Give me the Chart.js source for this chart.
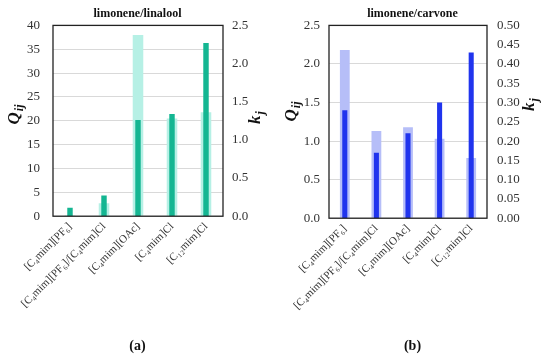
<!DOCTYPE html>
<html>
<head>
<meta charset="utf-8">
<script src="https://cdn.jsdelivr.net/npm/chart.js@4.4.0/dist/chart.umd.min.js"></script>
<style>
  html, body { margin: 0; padding: 0; background: #fff; }
  #wrap { position: relative; width: 550px; height: 363px; }
  .panel { position: absolute; top: 0; width: 275px; height: 363px; }
  #pa { left: 0; }
  #pb { left: 275px; }
</style>
</head>
<body>
<div id="wrap">
  <div class="panel" id="pa"><canvas id="ca"></canvas></div>
  <div class="panel" id="pb"><canvas id="cb"></canvas></div>
</div>
<script>
// ionic liquids (x categories)
var liquids = ['[C\u2084mim][PF\u2086]', '[C\u2084mim][PF\u2086]/[C\u2084mim]Cl', '[C\u2084mim][OAc]', '[C\u2084mim]Cl', '[C\u2081\u2082mim]Cl'];

// (a) limonene/linalool
var qLinalool = [0.2, 2.7, 38.0, 20.5, 21.8];
var kLinalool = [0.11, 0.27, 1.26, 1.34, 2.27];

// (b) limonene/carvone
var qCarvone = [2.18, 1.13, 1.18, 1.03, 0.78];
var kCarvone = [0.28, 0.17, 0.22, 0.30, 0.43];

var SERIF = '"Liberation Serif", "DejaVu Serif", serif';

// black frame round the plot + rotated axis titles with subscripts
var framePlugin = {
    id: 'frame',
    afterDraw: function(chart, args, opts) {
        var ctx = chart.ctx, a = chart.chartArea;
        ctx.save();
        ctx.strokeStyle = '#222';
        ctx.lineWidth = 1.3;
        ctx.strokeRect(a.left, a.top, a.right - a.left, a.bottom - a.top);
        ctx.restore();
        drawTitle(ctx, 'Q', 'ij', opts.qx, opts.qy);
        drawTitle(ctx, 'k', 'j', opts.kx, opts.ky);
    }
};

function drawTitle(ctx, main, sub, x, y) {
    ctx.save();
    ctx.translate(x, y);
    ctx.rotate(-Math.PI / 2);
    ctx.fillStyle = '#111';
    ctx.textBaseline = 'middle';
    ctx.font = 'bold italic 17px ' + SERIF;
    var w1 = ctx.measureText(main).width;
    ctx.font = 'bold italic 12px ' + SERIF;
    var w2 = ctx.measureText(sub).width;
    var x0 = -(w1 + w2) / 2;
    ctx.font = 'bold italic 17px ' + SERIF;
    ctx.fillText(main, x0, 0);
    ctx.font = 'bold italic 12px ' + SERIF;
    ctx.fillText(sub, x0 + w1 + 1, 5);
    ctx.restore();
}

function makePanel(id, title, tag, qData, kData, cfg) {
    var ctx = document.getElementById(id);
    return new Chart(ctx, {
        type: 'bar',
        data: {
            labels: liquids,
            datasets: [
                {
                    label: 'k',
                    data: kData,
                    yAxisID: 'yk',
                    backgroundColor: cfg.dark,
                    grouped: false,
                    barPercentage: 0.16,
                    categoryPercentage: 1,
                    order: 0
                },
                {
                    label: 'Q',
                    data: qData,
                    yAxisID: 'yq',
                    backgroundColor: cfg.light,
                    grouped: false,
                    barPercentage: 0.31,
                    categoryPercentage: 1,
                    order: 1
                }
            ]
        },
        options: {
            responsive: false,
            animation: false,
            layout: { padding: 0 },
            plugins: {
                legend: { display: false },
                tooltip: { enabled: false },
                title: {
                    display: true,
                    text: title,
                    color: '#111',
                    font: { family: SERIF, size: 12, weight: 'bold' },
                    padding: { top: 7, bottom: 4 }
                },
                subtitle: {
                    display: true,
                    position: 'bottom',
                    text: tag,
                    color: '#111',
                    font: { family: SERIF, size: 14, weight: 'bold' },
                    padding: { top: 0, bottom: 8 }
                },
                frame: cfg.titles
            },
            scales: {
                x: {
                    grid: { display: false, drawTicks: false },
                    border: { display: false },
                    ticks: {
                        minRotation: 45,
                        maxRotation: 45,
                        autoSkip: false,
                        padding: 4,
                        color: '#333',
                        font: { family: SERIF, size: 11 }
                    },
                    afterFit: function(s) { s.height = cfg.xHeight; }
                },
                yq: {
                    position: 'left',
                    min: 0,
                    max: cfg.qMax,
                    grid: { color: '#d9d9d9', lineWidth: 1, drawTicks: false },
                    border: { display: false },
                    ticks: {
                        stepSize: cfg.qStep,
                        padding: cfg.padL,
                        color: '#333',
                        font: { family: SERIF, size: 13 },
                        callback: function(v) { return v.toFixed(cfg.qDec); }
                    },
                    afterFit: function(s) { s.width = cfg.leftW; }
                },
                yk: {
                    position: 'right',
                    min: 0,
                    max: cfg.kMax,
                    grid: { display: false, drawTicks: false },
                    border: { display: false },
                    ticks: {
                        stepSize: cfg.kStep,
                        padding: cfg.padR,
                        color: '#333',
                        font: { family: SERIF, size: 13 },
                        callback: function(v) { return v.toFixed(cfg.kDec); }
                    },
                    afterFit: function(s) { s.width = cfg.rightW; }
                }
            }
        },
        plugins: [framePlugin]
    });
}

var cw = 275, ch = 363;
document.getElementById('ca').width = cw; document.getElementById('ca').height = ch;
document.getElementById('cb').width = cw; document.getElementById('cb').height = ch;

makePanel('ca', 'limonene/linalool', '(a)', qLinalool, kLinalool, {
    dark: 'rgb(20,182,146)', light: 'rgb(182,240,229)',
    qMax: 40, qStep: 5, qDec: 0,
    kMax: 2.5, kStep: 0.5, kDec: 1,
    leftW: 53, rightW: 52, padL: 13, padR: 9,
    xHeight: 122,
    titles: { qx: 15, qy: 115, kx: 256, ky: 118 }
});

makePanel('cb', 'limonene/carvone', '(b)', qCarvone, kCarvone, {
    dark: 'rgb(32,52,238)', light: 'rgb(182,190,248)',
    qMax: 2.5, qStep: 0.5, qDec: 1,
    kMax: 0.5, kStep: 0.05, kDec: 2,
    leftW: 54, rightW: 63, padL: 9, padR: 10,
    xHeight: 120,
    titles: { qx: 17, qy: 112, kx: 255, ky: 105 }
});
</script>
</body>
</html>
